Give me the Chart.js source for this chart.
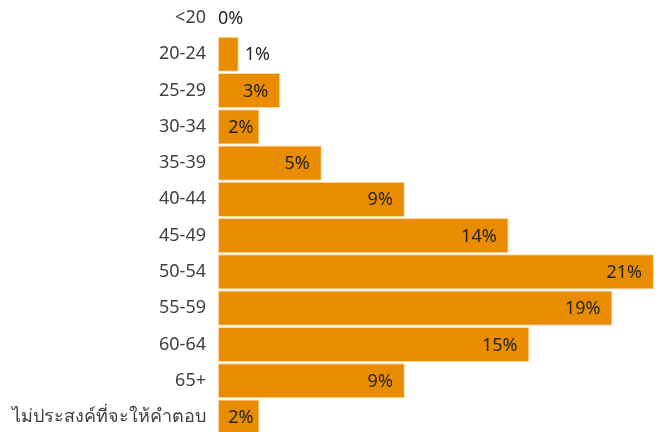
<!DOCTYPE html>
<html>
<head>
<meta charset="utf-8">
<script src="https://cdn.jsdelivr.net/npm/chart.js@4.4.1/dist/chart.umd.min.js"></script>
<style>
  html, body { margin: 0; padding: 0; background: #fff; overflow: hidden; }
  #wrap { position: relative; width: 659px; height: 481px; margin-top: -23px; }
</style>
</head>
<body>
<div id="wrap"><canvas id="chart"></canvas></div>
<script>
// Age groups of respondents, share in percent
const ageGroups = ['<20', '20-24', '25-29', '30-34', '35-39', '40-44', '45-49',
  '50-54', '55-59', '60-64', '65+', 'ไม่ประสงค์ที่จะให้คำตอบ'];
const sharePct = [0, 1, 3, 2, 5, 9, 14, 21, 19, 15, 9, 2];

const FONT = "'Noto Sans', 'DejaVu Sans', sans-serif";
const BAR_COLOR = '#E98C00';

// Excel-like value labels: inside the bar end when it fits, outside otherwise
const valueLabels = {
  id: 'valueLabels',
  afterDatasetsDraw(chart) {
    const ctx = chart.ctx;
    const meta = chart.getDatasetMeta(0);
    ctx.save();
    ctx.font = '18px ' + FONT;
    ctx.fillStyle = '#262626';
    ctx.textBaseline = 'middle';
    ctx.textAlign = 'left';
    meta.data.forEach((bar, i) => {
      const text = sharePct[i] + '%';
      const tw = ctx.measureText(text).width;
      const left = bar.base;
      const right = bar.x;
      const w = right - left;
      let x;
      if (w >= tw + 24) {
        x = right - 12 - tw;
      } else if (w >= tw + 4) {
        x = left + (w - tw) / 2 + 2;
      } else {
        x = right + (w > 0 ? 6 : 0);
      }
      ctx.fillText(text, x, bar.y + 1);
    });
    ctx.restore();
  }
};

new Chart(document.getElementById('chart'), {
  type: 'bar',
  data: {
    labels: ageGroups,
    datasets: [{
      data: sharePct,
      backgroundColor: BAR_COLOR,
      borderColor: 'rgba(255, 214, 150, 0.9)',
      borderWidth: 1,
      borderSkipped: false,
      barPercentage: 0.97,
      categoryPercentage: 1.0
    }]
  },
  options: {
    indexAxis: 'y',
    responsive: true,
    maintainAspectRatio: false,
    animation: false,
    layout: { padding: { left: 0, right: 5, top: 0, bottom: 0 } },
    plugins: {
      legend: { display: false },
      tooltip: { enabled: false }
    },
    scales: {
      x: {
        display: false,
        min: 0,
        max: 21
      },
      y: {
        grid: { display: false, drawTicks: false },
        border: { display: false },
        ticks: {
          color: '#404040',
          padding: 12,
          font: { family: FONT, size: 18 }
        },
        afterFit(scale) { scale.width = 218; }
      }
    }
  },
  plugins: [valueLabels]
});
</script>
</body>
</html>
